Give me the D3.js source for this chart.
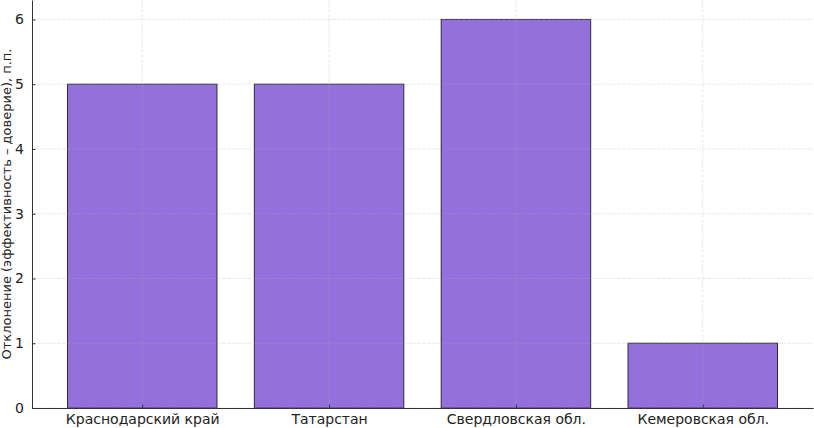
<!DOCTYPE html>
<html><head><meta charset="utf-8">
<script src="https://cdn.jsdelivr.net/npm/d3@7"></script>
<style>body{margin:0;background:#fff}svg{display:block}text{font-family:"DejaVu Sans",sans-serif}</style>
</head><body><svg id="c" width="814" height="428"></svg>
<script>
const categories = ["Краснодарский край","Татарстан","Свердловская обл.","Кемеровская обл."];
const values = [5, 5, 6, 1];
const yTicks = [0,1,2,3,4,5,6];
const yLabel = "Отклонение (эффективность – доверие), п.п.";

const svg = d3.select("#c");
const m = {l:32, r:1, t:0, b:20};
const W = 814, H = 428;
const x = d3.scaleLinear().domain([-0.59, 3.59]).range([m.l, W - m.r]);
const y = d3.scaleLinear().domain([0, 6.3]).range([H - m.b, m.t]);
const bw = 0.8;

const g = svg.append("g");
g.selectAll("rect.bar").data(values).enter().append("rect")
  .attr("x", (d,i) => x(i - bw/2)).attr("width", (d,i) => x(i + bw/2) - x(i - bw/2))
  .attr("y", d => y(d)).attr("height", d => y(0) - y(d))
  .attr("fill", "#9370DB").attr("stroke", "#2a2a3a").attr("stroke-width", 1);

// grid
const grid = svg.append("g").attr("stroke", "#b0b0b0").attr("stroke-opacity", 0.35).attr("stroke-width", 0.8).attr("stroke-dasharray", "4,1");
grid.selectAll("line.h").data(yTicks).enter().append("line")
  .attr("x1", m.l).attr("x2", W - m.r).attr("y1", d => y(d)).attr("y2", d => y(d));
grid.selectAll("line.v").data(categories).enter().append("line")
  .attr("x1", (d,i) => x(i)).attr("x2", (d,i) => x(i)).attr("y1", y(0)).attr("y2", y(6.3));

// axes
const yAxis = d3.axisLeft(y).tickValues(yTicks).tickFormat(d3.format("d")).tickSizeInner(-3.5).tickSizeOuter(0).tickPadding(8);
const ya = svg.append("g").attr("transform", `translate(${m.l},0)`).call(yAxis);
ya.select(".domain").attr("stroke", "#333").attr("stroke-width", 1);
ya.selectAll(".tick line").attr("stroke", "#333");
ya.selectAll("text").attr("font-size", 14).attr("fill", "#222").attr("font-family", "DejaVu Sans");

const xAxis = d3.axisBottom(x).tickValues(categories.map((d,i)=>i)).tickFormat(i => categories[i]).tickSizeInner(-3.5).tickSizeOuter(0).tickPadding(6);
const xa = svg.append("g").attr("transform", `translate(0,${y(0)})`).call(xAxis);
xa.select(".domain").attr("stroke", "#333").attr("stroke-width", 1);
xa.selectAll(".tick line").attr("stroke", "#333");
xa.selectAll("text").attr("font-size", 14).attr("fill", "#222").attr("font-family", "DejaVu Sans");

svg.append("text").attr("transform", `translate(11,${(y(0)+y(6.3))/2}) rotate(-90)`)
  .attr("text-anchor", "middle").attr("font-size", 13).attr("fill", "#222").text(yLabel);
</script></body></html>
